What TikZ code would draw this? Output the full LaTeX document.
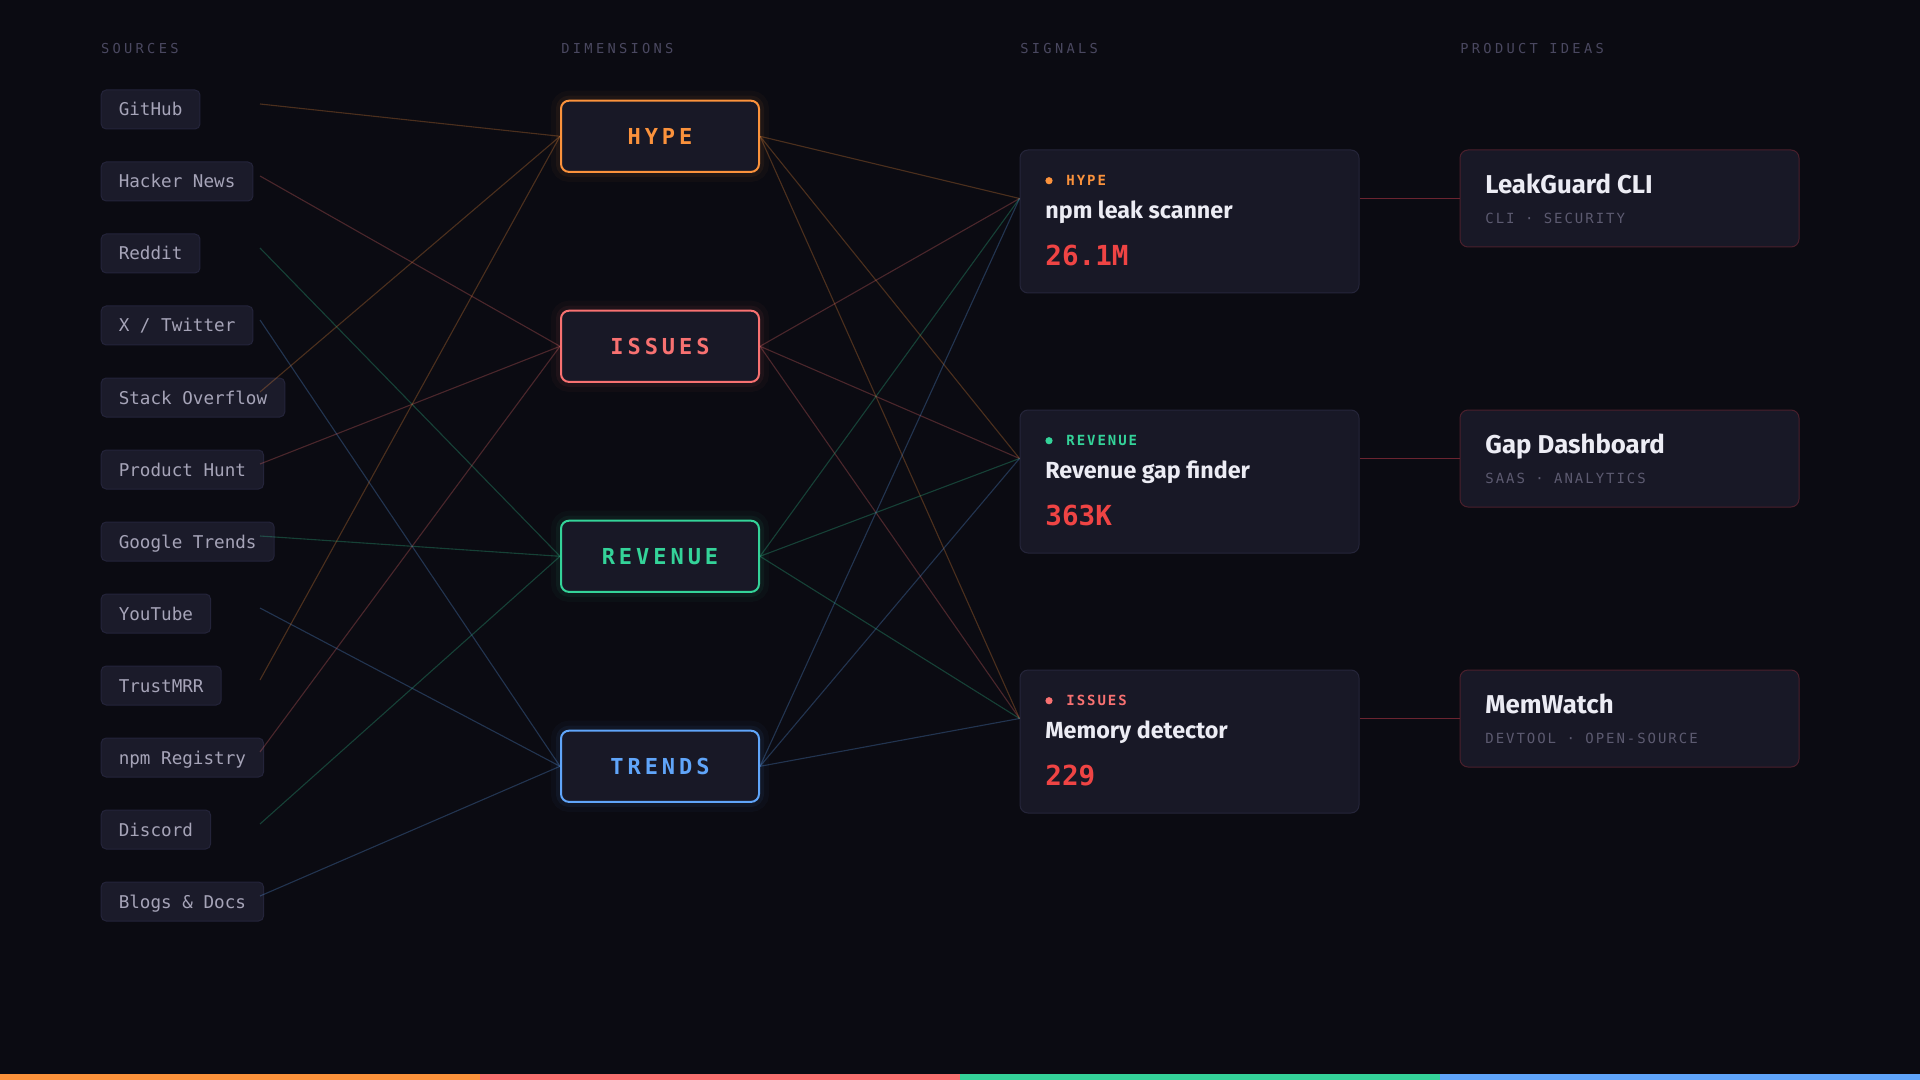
\documentclass[tikz,border=0pt]{standalone}
\usepackage{fontspec}
\usepackage{tikz}
\usetikzlibrary{calc}
\usetikzlibrary{positioning}

\setmainfont{Fira Sans}
\newfontfamily\monoplain{DejaVu Sans Mono}
\newfontfamily\monohead[LetterSpace=24]{DejaVu Sans Mono}
\newfontfamily\monodim[LetterSpace=18]{DejaVu Sans Mono}
\newfontfamily\monotag[LetterSpace=14]{DejaVu Sans Mono}

\definecolor{bgcol}{HTML}{0B0B12}
\definecolor{srcfill}{HTML}{1B1B2A}
\definecolor{srcline}{HTML}{24243A}
\definecolor{srctext}{HTML}{A6A4B8}
\definecolor{headtext}{HTML}{4A4860}
\definecolor{cardfill}{HTML}{181826}
\definecolor{cardline}{HTML}{25253A}
\definecolor{idealine}{HTML}{4A1F2C}
\definecolor{linkred}{HTML}{6B2430}
\definecolor{hypecol}{HTML}{FB923C}
\definecolor{issuecol}{HTML}{F87171}
\definecolor{revcol}{HTML}{34D399}
\definecolor{trendcol}{HTML}{60A5FA}
\definecolor{valred}{HTML}{EF4444}
\definecolor{titletext}{HTML}{ECECF4}
\definecolor{subtext}{HTML}{5C5A70}

\newcommand\fhead{\monohead\fontsize{6.85pt}{8pt}\selectfont}
\newcommand\fsrc{\monoplain\fontsize{8.8pt}{10pt}\selectfont}
\newcommand\fdim{\monodim\bfseries\fontsize{11pt}{13pt}\selectfont}
\newcommand\ftag{\monotag\bfseries\fontsize{7pt}{8pt}\selectfont}
\newcommand\fsig{\rmfamily\bfseries\fontsize{11.65pt}{13pt}\selectfont}
\newcommand\fval{\monoplain\bfseries\fontsize{13.8pt}{16pt}\selectfont}
\newcommand\fidea{\rmfamily\bfseries\fontsize{12.9pt}{15pt}\selectfont}
\newcommand\fsub{\monotag\fontsize{7pt}{8pt}\selectfont}

\begin{document}
\begin{tikzpicture}[x=0.5pt, y=-0.5pt,
        head/.style={anchor=base west, inner sep=0pt, text=headtext, font=\fhead},
        srcbox/.style={anchor=west, draw=srcline, fill=srcfill, rounded corners=2.5pt, line width=0.5pt,
            inner xsep=8.8pt, inner ysep=0pt, minimum height=19.5pt, text height=8pt, text depth=1.5pt,
            text=srctext, font=\fsrc},
        dimbox/.style={draw=#1, text=#1, fill=cardfill, line width=1pt, rounded corners=4pt,
            minimum width=99pt, minimum height=35.6pt, text height=10pt, text depth=1.5pt, font=\fdim,
            preaction={draw=#1, line width=10pt, opacity=0.03},
            preaction={draw=#1, line width=5pt, opacity=0.06}},
        sigcard/.style={draw=cardline, fill=cardfill, line width=0.5pt, rounded corners=4pt,
            minimum width=169.5pt, minimum height=71.5pt},
        ideacard/.style={draw=idealine, fill=cardfill, line width=0.5pt, rounded corners=4pt,
            minimum width=169.5pt, minimum height=48.5pt},
        dot/.style={circle, fill=#1, inner sep=0pt, minimum size=3.6pt},
        tag/.style={anchor=base west, inner sep=0pt, text=#1, font=\ftag},
        sigtitle/.style={anchor=base west, inner sep=0pt, text=titletext, font=\fsig},
        sigval/.style={anchor=base west, inner sep=0pt, text=valred, font=\fval},
        ideatitle/.style={anchor=base west, inner sep=0pt, text=titletext, font=\fidea},
        ideasub/.style={anchor=base west, inner sep=0pt, text=subtext, font=\fsub},
        link/.style={draw=#1, draw opacity=0.27, line width=0.55pt},
        redlink/.style={draw=linkred, line width=0.9pt}]

        % background
        \fill[bgcol] (0,0) rectangle (1920,1080);
        \useasboundingbox (0,0) rectangle (1920,1080);

        % column heads
        \node (hsrc) at (100.7,54) [head] {SOURCES};
        \node (hdim) at (561,54) [head] {DIMENSIONS};
        \node (hsig) at (1020,54) [head] {SIGNALS};
        \node (hidea) at (1460,54) [head] {PRODUCT IDEAS};

        % sources
        \node (gh) at (100.7,109.5) [srcbox] {GitHub};
        \node (hn) at (100.7,181.5) [srcbox] {Hacker News};
        \node (rd) at (100.7,253.5) [srcbox] {Reddit};
        \node (tw) at (100.7,325.5) [srcbox] {X / Twitter};
        \node (so) at (100.7,397.5) [srcbox] {Stack Overflow};
        \node (ph) at (100.7,469.5) [srcbox] {Product Hunt};
        \node (gt) at (100.7,541.5) [srcbox] {Google Trends};
        \node (yt) at (100.7,613.5) [srcbox] {YouTube};
        \node (tm) at (100.7,685.5) [srcbox] {TrustMRR};
        \node (npm) at (100.7,757.5) [srcbox] {npm Registry};
        \node (dc) at (100.7,829.5) [srcbox] {Discord};
        \node (bd) at (100.7,901.5) [srcbox] {Blogs \& Docs};

        % line outlets of the sources
        \coordinate (gh-o) at (260,104);
        \coordinate (hn-o) at (260,176);
        \coordinate (rd-o) at (260,248);
        \coordinate (tw-o) at (260,320);
        \coordinate (so-o) at (260,392);
        \coordinate (ph-o) at (260,464);
        \coordinate (gt-o) at (260,536);
        \coordinate (yt-o) at (260,608);
        \coordinate (tm-o) at (260,680);
        \coordinate (npm-o) at (260,752);
        \coordinate (dc-o) at (260,824);
        \coordinate (bd-o) at (260,896);

        % signal cards
        \node (sig1) at (1189.5,221.5) [sigcard] {};
        \node (sig2) at (1189.5,481.5) [sigcard] {};
        \node (sig3) at (1189.5,741.5) [sigcard] {};

        % product ideas
        \node (idea1) at (1629.5,198.5) [ideacard] {};
        \node (idea2) at (1629.5,458.5) [ideacard] {};
        \node (idea3) at (1629.5,718.5) [ideacard] {};

        \coordinate (sig1-i) at (sig1.west |- idea1.west);
        \coordinate (sig2-i) at (sig2.west |- idea2.west);
        \coordinate (sig3-i) at (sig3.west |- idea3.west);

        % dimensions
        \node (hype) at (660,136.3) [dimbox=hypecol] {HYPE};
        \node (issues) at (660,346.3) [dimbox=issuecol] {ISSUES};
        \node (revenue) at (660,556.3) [dimbox=revcol] {REVENUE};
        \node (trends) at (660,766.3) [dimbox=trendcol] {TRENDS};

        % connections sources -> dimensions
        \draw[link=hypecol] (gh-o) -- (hype.west);
        \draw[link=issuecol] (hn-o) -- (issues.west);
        \draw[link=revcol] (rd-o) -- (revenue.west);
        \draw[link=trendcol] (tw-o) -- (trends.west);
        \draw[link=hypecol] (so-o) -- (hype.west);
        \draw[link=issuecol] (ph-o) -- (issues.west);
        \draw[link=revcol] (gt-o) -- (revenue.west);
        \draw[link=trendcol] (yt-o) -- (trends.west);
        \draw[link=hypecol] (tm-o) -- (hype.west);
        \draw[link=issuecol] (npm-o) -- (issues.west);
        \draw[link=revcol] (dc-o) -- (revenue.west);
        \draw[link=trendcol] (bd-o) -- (trends.west);

        % connections dimensions -> signals
        \draw[link=hypecol] (hype.east) -- (sig1-i);
        \draw[link=hypecol] (hype.east) -- (sig2-i);
        \draw[link=hypecol] (hype.east) -- (sig3-i);
        \draw[link=issuecol] (issues.east) -- (sig1-i);
        \draw[link=issuecol] (issues.east) -- (sig2-i);
        \draw[link=issuecol] (issues.east) -- (sig3-i);
        \draw[link=revcol] (revenue.east) -- (sig1-i);
        \draw[link=revcol] (revenue.east) -- (sig2-i);
        \draw[link=revcol] (revenue.east) -- (sig3-i);
        \draw[link=trendcol] (trends.east) -- (sig1-i);
        \draw[link=trendcol] (trends.east) -- (sig2-i);
        \draw[link=trendcol] (trends.east) -- (sig3-i);

        % connections signals -> ideas
        \draw[redlink] (sig1.east |- idea1.west) -- (idea1.west);
        \draw[redlink] (sig2.east |- idea2.west) -- (idea2.west);
        \draw[redlink] (sig3.east |- idea3.west) -- (idea3.west);

        % signal texts
        \node (d1) at (1049,180.7) [dot=hypecol] {};
        \node (t1) at (1066,185.3) [tag=hypecol] {HYPE};
        \node (n1) at (1045,218.3) [sigtitle] {npm leak scanner};
        \node (v1) at (1045,265.7) [sigval] {26.1M};

        \node (d2) at (1049,440.7) [dot=revcol] {};
        \node (t2) at (1066,445.3) [tag=revcol] {REVENUE};
        \node (n2) at (1045,478.3) [sigtitle] {Revenue gap finder};
        \node (v2) at (1045,525.7) [sigval] {363K};

        \node (d3) at (1049,700.7) [dot=issuecol] {};
        \node (t3) at (1066,705.3) [tag=issuecol] {ISSUES};
        \node (n3) at (1045,738.3) [sigtitle] {Memory detector};
        \node (v3) at (1045,785.7) [sigval] {229};

        % idea texts
        \node (p1) at (1485,193.3) [ideatitle] {LeakGuard CLI};
        \node (q1) at (1485,223.3) [ideasub] {CLI · SECURITY};
        \node (p2) at (1485,453.3) [ideatitle] {Gap Dashboard};
        \node (q2) at (1485,483.3) [ideasub] {SAAS · ANALYTICS};
        \node (p3) at (1485,713.3) [ideatitle] {MemWatch};
        \node (q3) at (1485,743.3) [ideasub] {DEVTOOL · OPEN-SOURCE};

        % bottom strip
        \fill[hypecol] (0,1074) rectangle (480,1080);
        \fill[issuecol] (480,1074) rectangle (960,1080);
        \fill[revcol] (960,1074) rectangle (1440,1080);
        \fill[trendcol] (1440,1074) rectangle (1920,1080);
    \end{tikzpicture}
\end{document}
